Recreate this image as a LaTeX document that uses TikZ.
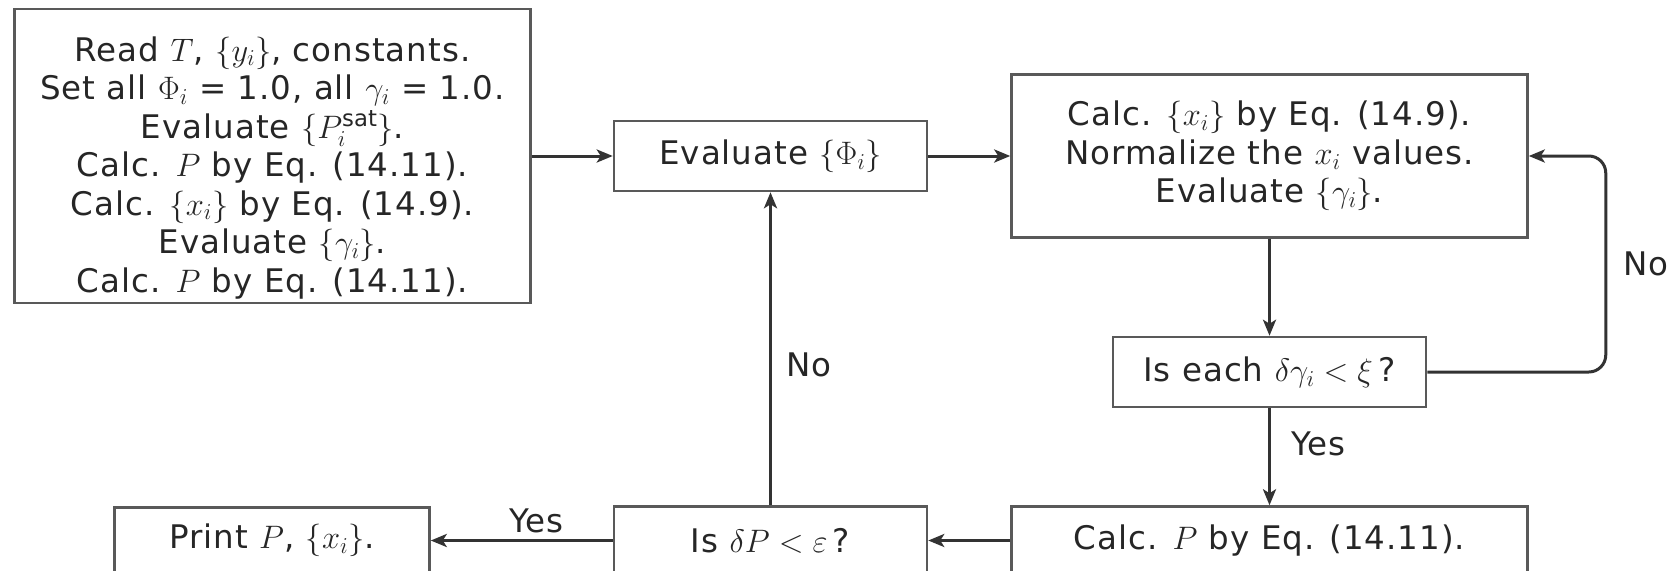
\RequirePackage{fix-cm}
\documentclass[tikz,border=0pt]{standalone}
\usepackage{amsmath, amssymb}
\usepackage{fontspec}
\setmainfont{DejaVu Sans}[LetterSpace=3]
\usetikzlibrary{positioning, arrows.meta}

\begin{document}
\begin{tikzpicture}[
  font=\fontsize{32.5}{38.5}\selectfont,
  box/.style  ={rectangle, draw=black!65, line width=2.5pt, align=center,
                text=black!85, inner sep=0pt,
                minimum width=313pt, minimum height=70pt},
  wide/.style ={box, minimum width=516pt},
  flow/.style ={-{Stealth[length=16pt, width=13pt, inset=4pt]},
                line width=3pt, black!80},
  lbl/.style  ={text=black!85, inner sep=6pt}
]

\useasboundingbox (0,0) rectangle (1669pt,-570pt);

% ---------- Top row ----------
\node[wide, minimum height=294pt] (init) at (272.5pt,-156pt)
  {\rule{0pt}{48pt}Read $T$, $\{y_i\}$, constants.\\
   Set all $\Phi_i$ = 1.0, all $\gamma_i$ = 1.0.\\
   Evaluate $\{P_i^{\mathrm{sat}}\}$.\\
   Calc. $P$ by Eq. (14.11).\\
   Calc. $\{x_i\}$ by Eq. (14.9).\\
   Evaluate $\{\gamma_i\}$.\\
   Calc. $P$ by Eq. (14.11).};
\node[box, right=81pt of init]     (evalphi) {Evaluate $\{\Phi_i\}$};
\node[wide, minimum height=163pt, right=82pt of evalphi] (calcx)
  {Calc. $\{x_i\}$ by Eq. (14.9).\\
   Normalize the $x_i$ values.\\
   Evaluate $\{\gamma_i\}$.};

% ---------- Right column ----------
\node[box, below=97pt of calcx]    (testgam) {Is each $\delta\gamma_i < \xi$\,?};
\node[wide, minimum height=68pt, below=97pt of testgam] (calcp)
  {Calc. $P$ by Eq. (14.11).};

% ---------- Bottom row ----------
\node[box, minimum height=68pt, left=82pt of calcp]  (testp)
  {Is $\delta P < \varepsilon$\,?};
\node[box, minimum width=315pt, minimum height=66pt, left=182pt of testp]
  (printout) {Print $P$, $\{x_i\}$.};

% ---------- Arrows ----------
\coordinate (loop) at ([xshift=77pt]calcx.east);

\draw[flow] (init)    -- (evalphi);
\draw[flow] (evalphi) -- (calcx);
\draw[flow] (calcx)   -- (testgam);
\draw[flow] (testgam) -- node[lbl, right=14pt, pos=0.37] {Yes} (calcp);
\draw[flow, rounded corners=17pt] (testgam.east)
      -| node[lbl, right=10pt, pos=0.75] {No} (loop) -- (calcx.east);
\draw[flow] (calcp)   -- (testp);
\draw[flow] (testp)   -- node[lbl, above, pos=0.42] {Yes} (printout);
\draw[flow] (testp)   -- node[lbl, right=8pt, pos=0.45] {No} (evalphi);

\end{tikzpicture}
\end{document}
